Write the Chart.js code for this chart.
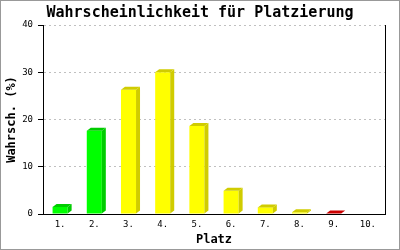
<!DOCTYPE html>
<html>
<head>
<meta charset="utf-8">
<script src="https://cdn.jsdelivr.net/npm/chart.js@4"></script>
<style>
body{margin:0;background:#fff;}
</style>
</head>
<body>
<canvas id="barChart" width="400" height="250"></canvas>
<script>

const platzLabels=["1.","2.","3.","4.","5.","6.","7.","8.","9.","10."];
const wahrsch=[1.5,17.6,26.3,30.0,18.6,4.9,1.4,0.35,0.1,0];
const yTicks=[0,10,20,30,40];

function frontColor(i){
    if(i<2) return "#00ff00";
    if(i<8) return "#ffff00";
    return "#ff0000";
}
function sideColor(i){
    if(i<2) return "#00cc00";
    if(i<8) return "#d0cc00";
    return "#cc0000";
}

// side + top faces of the bars, and the frame
const bar3d={
    id:"bar3d",
    afterDatasetsDraw(chart){
        const ctx=chart.ctx;
        const dx=4, dy=3;
        chart.getDatasetMeta(0).data.forEach((bar,i)=>{
            if(wahrsch[i]<=0) return;
            const p=bar.getProps(["x","y","base","width"],true);
            const l=p.x-p.width/2, r=p.x+p.width/2;
            ctx.save();
            ctx.fillStyle=sideColor(i);
            ctx.beginPath();
            ctx.moveTo(r,p.y);
            ctx.lineTo(r+dx,p.y-dy);
            ctx.lineTo(r+dx,p.base-dy);
            ctx.lineTo(r,p.base);
            ctx.closePath();
            ctx.fill();
            ctx.beginPath();
            ctx.moveTo(l,p.y);
            ctx.lineTo(l+dx,p.y-dy);
            ctx.lineTo(r+dx,p.y-dy);
            ctx.lineTo(r,p.y);
            ctx.closePath();
            ctx.fill();
            ctx.restore();
        });
    },
    afterDraw(chart){
        const ctx=chart.ctx;
        ctx.save();
        ctx.strokeStyle="#999";
        ctx.lineWidth=1;
        ctx.strokeRect(0.5,0.5,399,249);
        ctx.restore();
    }
};

function createBarChart(x,y){

   const canvas=document.getElementById("barChart");
   Chart.defaults.font.family="'DejaVu Sans Mono', monospace";
   Chart.defaults.color="#000";

   new Chart(canvas,{
    type:"bar",
    data:{
        labels:x,
        datasets:[{
            data:y,
            backgroundColor:c=>frontColor(c.dataIndex),
            borderWidth:0,
            barPercentage:0.44,
            categoryPercentage:1
        }]
    },
    options:{
        responsive:false,
        devicePixelRatio:1,
        animation:false,
        layout:{padding:0},
        plugins:{
            legend:{display:false},
            tooltip:{enabled:false},
            title:{
                display:true,
                text:"Wahrscheinlichkeit für Platzierung",
                font:{size:15,weight:"bold"},
                color:"#000",
                padding:{top:4,bottom:3}
            }
        },
        scales:{
            x:{
                grid:{display:false,drawTicks:false},
                border:{color:"#000",width:1},
                ticks:{font:{size:9},padding:5,maxRotation:0},
                title:{display:true,text:"Platz",font:{size:12,weight:"bold"},padding:{top:0,bottom:3}},
                afterFit(s){s.height=36;}
            },
            y:{
                min:0,
                max:40,
                afterBuildTicks(s){s.ticks=yTicks.map(v=>({value:v}));},
                grid:{
                    color:c=>c.tick&&c.tick.value===0?"rgba(0,0,0,0)":"#c0c0c0",
                    tickColor:"#000",
                    tickLength:5,
                    lineWidth:1
                },
                border:{color:"#000",width:1,dash:[2,3]},
                ticks:{font:{size:9},padding:5},
                title:{display:true,text:"Wahrsch. (%)",font:{size:12,weight:"bold"},padding:{top:5,bottom:0}},
                afterFit(s){s.width=43;}
            },
            // right frame line of the plot
            y2:{
                position:"right",
                min:0,
                max:40,
                grid:{display:false,drawTicks:false},
                border:{color:"#000",width:1},
                ticks:{display:false},
                afterFit(s){s.width=15;}
            }
        }
    },
    plugins:[bar3d]
   });
}

createBarChart(platzLabels,wahrsch);

</script>
</body>
</html>
